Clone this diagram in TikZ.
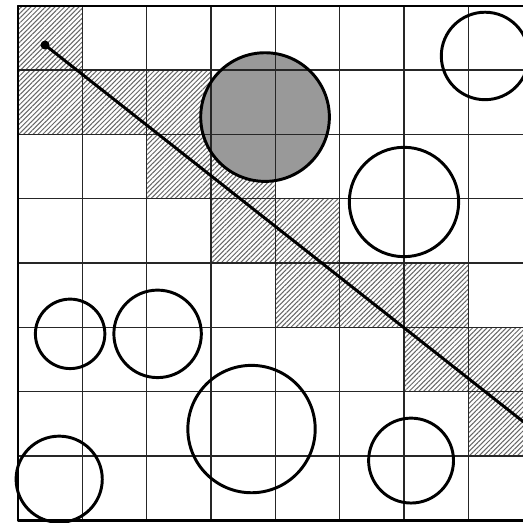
\documentclass[tikz,border=0pt]{standalone}
\usepackage{tikz}
\usetikzlibrary{patterns.meta}
\tikzset{
  every picture/.style={line join=round, line cap=round},
  gridline/.style={line width=0.6pt, black!85},
  frame/.style={line width=1pt},
  beam/.style={pattern={Lines[angle=45,distance=1.5pt,line width=0.45pt]}, pattern color=black!60},
  obstacle/.style={line width=1.3pt},
  ray/.style={line width=1.3pt},
}
\begin{document}
\begin{tikzpicture}[x=1cm,y=1cm]
\useasboundingbox (-0.28,-0.03) rectangle (7.85,8.09);
\clip (-0.28,-0.03) rectangle (7.85,8.09);
% cells crossed by the ray
\foreach \c/\r in {0/7, 0/6,1/6,2/6, 2/5,3/5, 3/4,4/4, 4/3,5/3,6/3, 6/2,7/2, 7/1}
  \fill[beam] (\c,\r) rectangle ++(1,1);
\fill[black!40] (3.84,6.27) circle (1.0);
\draw[gridline] (0,0) grid (8,8);
\draw[frame] (8,8) -- (0,8) -- (0,0) -- (8,0);
% circles
\draw[obstacle] (3.84,6.27) circle (1.0)
  (7.26,7.22) circle (0.68)
  (6,4.95) circle (0.85)
  (0.81,2.90) circle (0.54)
  (2.17,2.90) circle (0.68)
  (3.63,1.42) circle (0.99)
  (6.11,0.93) circle (0.66)
  (0.64,0.64) circle (0.67);
% ray
\coordinate (start) at (0.42,7.39);
\coordinate (stop) at (8,1.42);
\draw[ray] (start) -- (stop);
\fill (start) circle (2pt);
\end{tikzpicture}
\end{document}
